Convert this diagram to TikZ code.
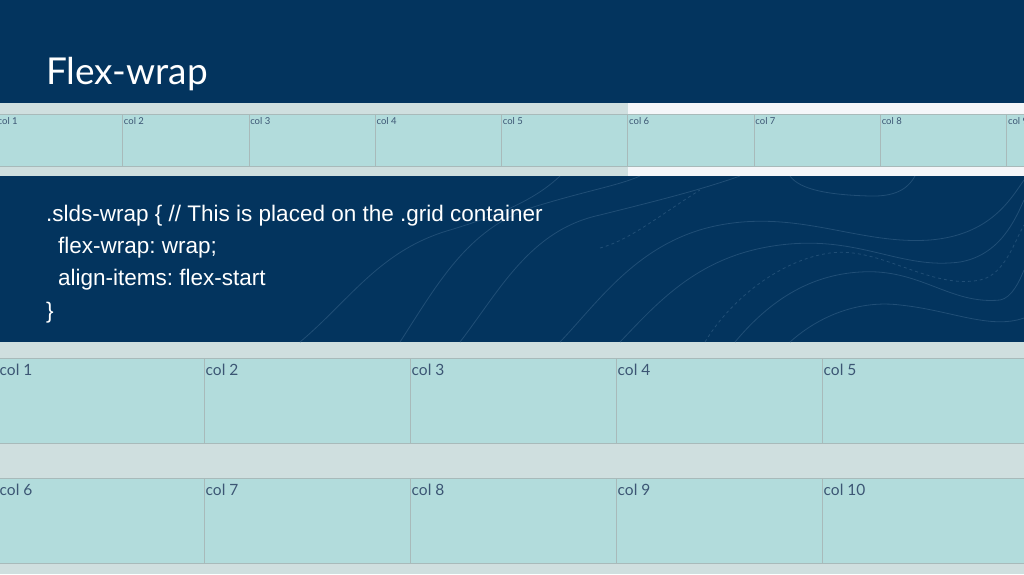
\documentclass[tikz,border=0pt]{standalone}
\usepackage{fontspec}
\setmainfont{Lato}
\newfontfamily\codefont{Liberation Sans}
\usetikzlibrary{positioning}
\frenchspacing

\definecolor{navy}{RGB}{3,52,94}
\definecolor{contour}{RGB}{32,78,118}
\definecolor{band}{RGB}{207,223,223}
\definecolor{paper}{RGB}{244,246,249}
\definecolor{cellfill}{RGB}{178,220,220}
\definecolor{cellline}{RGB}{168,186,186}
\definecolor{labeltext}{RGB}{60,86,116}

\begin{document}
\begin{tikzpicture}[x=1pt,y=-1pt]
\tikzstyle{cell}=[draw=cellline,fill=cellfill,line width=1pt,inner sep=0pt,outer sep=0pt]
\tikzstyle{small cell}=[cell,minimum width=126.3pt,minimum height=52pt]
\tikzstyle{big cell}=[cell,minimum width=206pt,minimum height=85pt]
\tikzstyle{small label}=[anchor=north west,inner xsep=1pt,inner ysep=3pt,text=labeltext,font=\fontsize{9.5}{11}\selectfont]
\tikzstyle{big label}=[anchor=north west,inner xsep=1.5pt,inner ysep=5pt,text=labeltext,font=\fontsize{15.5}{17}\selectfont]
\tikzstyle{wave}=[draw=contour,line width=0.8pt]

\useasboundingbox (0,0) rectangle (1024,574);
\clip (0,0) rectangle (1024,574);

% backgrounds
\fill[navy] (0,0) rectangle (1024,342);
\fill[band] (0,103) rectangle (628,176);
\fill[paper] (628,103) rectangle (1024,176);
\fill[band] (0,342) rectangle (1024,574);

% contour decoration
\begin{scope}
\clip (0,176) rectangle (1024,342);
\draw[wave] (560,342) .. controls (600,300) and (640,240) .. (720,225) .. controls (800,210) and (860,245) .. (930,240) .. controls (990,235) and (1010,200) .. (1024,180);
\draw[wave] (620,342) .. controls (660,300) and (700,255) .. (780,245) .. controls (860,235) and (900,270) .. (960,262) .. controls (1000,255) and (1015,220) .. (1024,200);
\draw[wave,dashed] (705,342) .. controls (730,300) and (780,260) .. (830,253) .. controls (880,246) and (930,290) .. (980,280) .. controls (1005,275) and (1015,240) .. (1024,225);
\draw[wave] (735,342) .. controls (770,300) and (810,275) .. (860,272) .. controls (920,268) and (950,305) .. (1000,300) .. controls (1012,298) and (1020,280) .. (1024,270);
\draw[wave] (790,342) .. controls (820,315) and (860,300) .. (900,305) .. controls (950,310) and (990,330) .. (1024,318);
\draw[wave] (460,342) .. controls (500,290) and (530,230) .. (600,215) .. controls (660,200) and (700,190) .. (740,176);
\draw[wave] (400,342) .. controls (440,280) and (470,225) .. (540,205) .. controls (590,190) and (620,185) .. (640,176);
\draw[wave] (300,342) .. controls (350,300) and (380,250) .. (450,230) .. controls (510,212) and (540,195) .. (560,176);
\draw[wave,dashed] (600,248) .. controls (630,240) and (660,215) .. (700,190);
\draw[wave] (790,176) .. controls (800,190) and (830,195) .. (870,196) .. controls (900,197) and (910,185) .. (915,176);
\end{scope}

% title
\node[anchor=base west,inner sep=0pt,text=white,font=\fontsize{37}{40}\selectfont] (T) at (46,84) {Flex-wrap};

% single row, no wrap
\node[small cell] (a1) at (59.6,140) {};
\node[small cell,right=0pt of a1] (a2) {};
\node[small cell,right=0pt of a2] (a3) {};
\node[small cell,right=0pt of a3] (a4) {};
\node[small cell,right=0pt of a4] (a5) {};
\node[small cell,right=0pt of a5] (a6) {};
\node[small cell,right=0pt of a6] (a7) {};
\node[small cell,right=0pt of a7] (a8) {};
\node[small cell,right=0pt of a8] (a9) {};
\node[small label] at (a1.north west) {col 1};
\node[small label] at (a2.north west) {col 2};
\node[small label] at (a3.north west) {col 3};
\node[small label] at (a4.north west) {col 4};
\node[small label] at (a5.north west) {col 5};
\node[small label] at (a6.north west) {col 6};
\node[small label] at (a7.north west) {col 7};
\node[small label] at (a8.north west) {col 8};
\node[small label] at (a9.north west) {col 9};

% code
\node[anchor=north west,inner sep=0pt,text=white,align=left,
  font=\codefont\fontsize{22.5}{32.2}\selectfont] (C) at (46,205)
  {.slds-wrap \{ // This is placed on the .grid container\\
   \hspace*{12pt}flex-wrap: wrap;\\
   \hspace*{12pt}align-items: flex-start\\
   \}};

% wrapped rows
\node[big cell] (b1) at (101,401) {};
\node[big cell,right=0pt of b1] (b2) {};
\node[big cell,right=0pt of b2] (b3) {};
\node[big cell,right=0pt of b3] (b4) {};
\node[big cell,right=0pt of b4] (b5) {};
\node[big cell] (b6) at (101,521) {};
\node[big cell,right=0pt of b6] (b7) {};
\node[big cell,right=0pt of b7] (b8) {};
\node[big cell,right=0pt of b8] (b9) {};
\node[big cell,right=0pt of b9] (b10) {};
\node[big label] at (b1.north west) {col 1};
\node[big label] at (b2.north west) {col 2};
\node[big label] at (b3.north west) {col 3};
\node[big label] at (b4.north west) {col 4};
\node[big label] at (b5.north west) {col 5};
\node[big label] at (b6.north west) {col 6};
\node[big label] at (b7.north west) {col 7};
\node[big label] at (b8.north west) {col 8};
\node[big label] at (b9.north west) {col 9};
\node[big label] at (b10.north west) {col 10};
\end{tikzpicture}
\end{document}
